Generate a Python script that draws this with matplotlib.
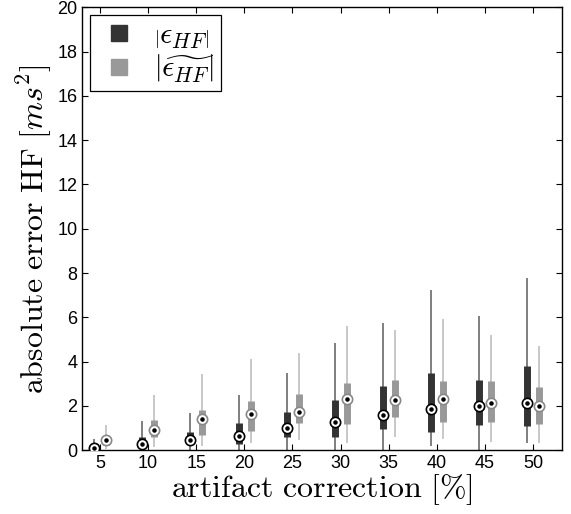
import numpy as np
import matplotlib
matplotlib.use("Agg")
import matplotlib.pyplot as plt
from matplotlib.lines import Line2D

# artifact correction levels [%]
levels = [5, 10, 15, 20, 25, 30, 35, 40, 45, 50]

# |eps_HF| : whisker low, q1, median, q3, whisker high
eps_lo = [0.0, 0.0, 0.0, 0.0, 0.0, 0.0, 0.0, 0.19, 0.0, 0.32]
eps_q1 = [0.05, 0.1, 0.32, 0.3, 0.59, 0.6, 0.98, 0.84, 1.14, 1.1]
eps_med = [0.12, 0.3, 0.48, 0.65, 0.99, 1.29, 1.61, 1.86, 2.01, 2.15]
eps_q3 = [0.25, 0.6, 0.83, 1.22, 1.74, 2.27, 2.92, 3.5, 3.17, 3.8]
eps_hi = [0.52, 1.32, 1.68, 2.5, 3.49, 4.83, 5.75, 7.24, 6.06, 7.76]

# |eps_HF tilde|
til_lo = [0.05, 0.13, 0.2, 0.31, 0.45, 0.34, 0.59, 0.52, 0.36, 0.34]
til_q1 = [0.25, 0.59, 0.71, 0.89, 1.25, 1.2, 1.49, 1.26, 1.26, 1.19]
til_med = [0.45, 0.92, 1.41, 1.62, 1.72, 2.30, 2.27, 2.30, 2.15, 2.01]
til_q3 = [0.6, 1.37, 1.83, 2.21, 2.56, 3.03, 3.16, 3.14, 3.13, 2.86]
til_hi = [1.14, 2.5, 3.44, 4.14, 4.39, 5.61, 5.42, 5.93, 5.19, 4.71]

plt.rcParams["mathtext.fontset"] = "cm"
plt.rcParams["font.family"] = ["Liberation Sans", "DejaVu Sans"]

fig = plt.figure(figsize=(5.71, 5.14), dpi=100)
ax = fig.add_axes([0.144, 0.124, 0.84, 0.862])

x = np.array(levels, dtype=float)
x_dark = x - 0.6
x_light = x + 0.65

# compact boxplot style: thin whisker, thick box, circled median
ax.vlines(x_dark, eps_lo, eps_hi, color="#7f7f7f", lw=1.4, zorder=2)
ax.vlines(x_dark, eps_q1, eps_q3, color="#333333", lw=5, zorder=3)
ax.scatter(x_dark, eps_med, s=55, facecolor="white", edgecolor="black", lw=1.2, zorder=4)
ax.scatter(x_dark, eps_med, s=5, color="black", zorder=5)

ax.vlines(x_light, til_lo, til_hi, color="#c8c8c8", lw=1.4, zorder=2)
ax.vlines(x_light, til_q1, til_q3, color="#999999", lw=5, zorder=3)
ax.scatter(x_light, til_med, s=55, facecolor="white", edgecolor="#888888", lw=1.2, zorder=4)
ax.scatter(x_light, til_med, s=5, color="black", zorder=5)

ax.set_xlim(3.16, 52.98)
ax.set_ylim(0, 20)
ax.set_xticks(levels)
ax.set_yticks(np.arange(0, 21, 2))
ax.tick_params(direction="in", length=4, width=0.8, labelsize=13,
               top=True, right=True)
for s in ax.spines.values():
    s.set_linewidth(1.0)

ax.set_xlabel(r"$\mathrm{artifact\ correction\ [\%]}$", fontsize=23, labelpad=0)
ax.set_ylabel(r"$\mathrm{absolute\ error\ HF}\ [ms^2]$", fontsize=23, labelpad=2)

handles = [
    Line2D([], [], ls="none", marker="s", markersize=11.5, color="#333333"),
    Line2D([], [], ls="none", marker="s", markersize=11.5, color="#999999"),
]
labels = [r"$\left|\epsilon_{HF}\right|$", r"$\left|\widetilde{\epsilon_{HF}}\right|$"]
leg = ax.legend(handles, labels, loc="upper left", fontsize=22, frameon=True,
                fancybox=False, edgecolor="black", framealpha=1,
                borderaxespad=0.25, borderpad=0.2, handlelength=1.5,
                handletextpad=0.4, labelspacing=0.05)
leg.get_frame().set_linewidth(0.9)

fig.savefig("out.png", dpi=100)
